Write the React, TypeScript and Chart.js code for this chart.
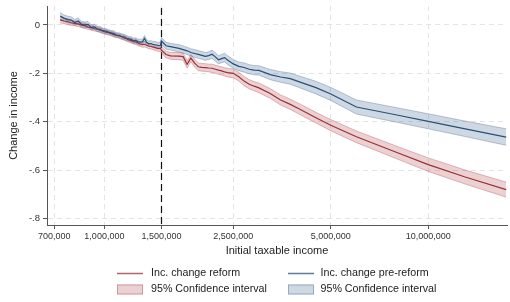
import React, { useEffect, useRef } from "react";
import { Chart, registerables } from "chart.js";

Chart.register(...registerables);

const incomes = [
  730000, 750000, 770000, 790000, 810000, 830000, 850000, 870000, 890000, 910000,
  930000, 950000, 970000, 990000, 1010000, 1030000, 1050000, 1070000, 1090000, 1110000,
  1130000, 1150000, 1170000, 1190000, 1210000, 1230000, 1250000, 1270000, 1290000, 1310000,
  1330000, 1350000, 1370000, 1390000, 1410000, 1430000, 1450000, 1470000, 1490000, 1500000,
  1550000, 1600000, 1700000, 1750000, 1800000, 1850000, 1900000, 1950000, 2000000, 2050000,
  2100000, 2150000, 2200000, 2250000, 2300000, 2350000, 2400000, 2500000, 2600000, 2700000,
  2800000, 2900000, 3000000, 3250000, 3500000, 3750000, 4000000, 4500000, 5000000, 6000000,
  8000000, 10000000, 13000000, 17400000,
];

const reformChange = [
  0.021, 0.016, 0.014, 0.009, 0.006, 0.004, -0.001, -0.003, -0.009, -0.011,
  -0.015, -0.018, -0.022, -0.026, -0.030, -0.032, -0.036, -0.040, -0.043, -0.046,
  -0.049, -0.054, -0.057, -0.062, -0.065, -0.069, -0.070, -0.075, -0.079, -0.081,
  -0.080, -0.084, -0.087, -0.088, -0.091, -0.093, -0.096, -0.098, -0.096, -0.104,
  -0.122, -0.128, -0.129, -0.131, -0.163, -0.137, -0.158, -0.173, -0.175, -0.176,
  -0.178, -0.179, -0.183, -0.187, -0.190, -0.194, -0.197, -0.200, -0.214, -0.232,
  -0.245, -0.253, -0.260, -0.283, -0.310, -0.328, -0.347, -0.383, -0.414, -0.462,
  -0.527, -0.577, -0.628, -0.680,
];

const reformCI = [
  0.012, 0.011, 0.012, 0.011, 0.010, 0.011, 0.010, 0.011, 0.010, 0.010,
  0.010, 0.009, 0.010, 0.009, 0.010, 0.009, 0.009, 0.010, 0.009, 0.009,
  0.010, 0.009, 0.010, 0.009, 0.010, 0.010, 0.011, 0.010, 0.010, 0.011,
  0.011, 0.010, 0.011, 0.011, 0.011, 0.012, 0.011, 0.012, 0.012, 0.013,
  0.014, 0.014, 0.015, 0.015, 0.015, 0.015, 0.016, 0.016, 0.016, 0.016,
  0.016, 0.017, 0.017, 0.017, 0.017, 0.017, 0.018, 0.018, 0.018, 0.019,
  0.019, 0.019, 0.020, 0.020, 0.021, 0.021, 0.022, 0.022, 0.023, 0.024,
  0.026, 0.028, 0.029, 0.031,
];

const preReformChange = [
  0.037, 0.028, 0.022, 0.020, 0.010, 0.016, 0.002, 0.000, 0.002, -0.010,
  -0.008, -0.016, -0.018, -0.024, -0.026, -0.030, -0.033, -0.036, -0.042, -0.043,
  -0.048, -0.049, -0.055, -0.058, -0.060, -0.066, -0.064, -0.070, -0.071, -0.070,
  -0.056, -0.072, -0.078, -0.077, -0.080, -0.082, -0.083, -0.085, -0.084, -0.066,
  -0.086, -0.090, -0.097, -0.102, -0.107, -0.114, -0.118, -0.122, -0.126, -0.130,
  -0.127, -0.121, -0.132, -0.144, -0.139, -0.135, -0.145, -0.161, -0.171, -0.176,
  -0.183, -0.187, -0.188, -0.205, -0.215, -0.222, -0.235, -0.259, -0.285, -0.339,
  -0.372, -0.398, -0.429, -0.463,
];

const preReformCI = [
  0.014, 0.013, 0.014, 0.013, 0.012, 0.013, 0.012, 0.012, 0.012, 0.011,
  0.011, 0.011, 0.011, 0.010, 0.011, 0.010, 0.010, 0.011, 0.010, 0.010,
  0.011, 0.010, 0.011, 0.010, 0.011, 0.011, 0.011, 0.011, 0.012, 0.011,
  0.012, 0.012, 0.012, 0.012, 0.012, 0.013, 0.012, 0.013, 0.013, 0.014,
  0.014, 0.014, 0.015, 0.015, 0.015, 0.015, 0.016, 0.016, 0.016, 0.016,
  0.016, 0.017, 0.017, 0.017, 0.017, 0.018, 0.018, 0.018, 0.018, 0.019,
  0.019, 0.019, 0.019, 0.021, 0.022, 0.023, 0.024, 0.026, 0.027, 0.029,
  0.030, 0.031, 0.032, 0.034,
];

const xTickValues = [700000, 1000000, 1500000, 2500000, 5000000, 10000000];
const yTickValues = [-0.8, -0.6, -0.4, -0.2, 0];
const thresholdIncome = 1500000;
const xTitle = "Initial taxable income";
const yTitle = "Change in income";
const legendLabels = [
  "Inc. change reform",
  "Inc. change pre-reform",
  "95% Confidence interval",
  "95% Confidence interval",
];

const FONT = '"Liberation Sans", Arial, Helvetica, sans-serif';
const RED = "#9a2f38";
const BLUE = "#26507a";
const RED_FILL = "rgba(180,70,80,0.25)";
const BLUE_FILL = "rgba(60,100,145,0.25)";
const RED_EDGE = "rgba(190,100,108,0.55)";
const BLUE_EDGE = "rgba(110,140,172,0.6)";

function fmtThousands(v: number): string {
  return String(Math.round(v)).replace(/\B(?=(\d{3})+(?!\d))/g, ",");
}

function fmtY(v: number): string {
  if (Math.abs(v) < 1e-9) return "0";
  return v.toFixed(1).replace("0.", ".");
}

const thresholdPlugin = {
  id: "thresholdLine",
  beforeDatasetsDraw(chart: any) {
    const { ctx, chartArea, scales } = chart;
    const x = Math.round(scales.x.getPixelForValue(thresholdIncome)) + 0.5;
    ctx.save();
    ctx.strokeStyle = "#111";
    ctx.lineWidth = 1.2;
    ctx.setLineDash([7, 4]);
    ctx.beginPath();
    ctx.moveTo(x, chartArea.top + 2);
    ctx.lineTo(x, chartArea.bottom);
    ctx.stroke();
    ctx.restore();
  },
};

const legendPlugin = {
  id: "customLegend",
  afterDraw(chart: any) {
    const ctx = chart.ctx;
    ctx.save();
    ctx.font = `10.7px ${FONT}`;
    ctx.fillStyle = "#222";
    ctx.textBaseline = "middle";
    ctx.textAlign = "left";
    const row1 = 273.5;
    const row2 = 289.5;
    const cols = [117, 288];
    const textCols = [151, 320.5];
    const lineColors = [RED, BLUE];
    const fills = [RED_FILL, BLUE_FILL];
    const edges = [RED_EDGE, BLUE_EDGE];
    for (let c = 0; c < 2; c++) {
      ctx.strokeStyle = lineColors[c];
      ctx.globalAlpha = 0.75;
      ctx.lineWidth = 1.5;
      ctx.beginPath();
      ctx.moveTo(cols[c], row1);
      ctx.lineTo(cols[c] + 26, row1);
      ctx.stroke();
      ctx.globalAlpha = 1;
      ctx.fillStyle = fills[c];
      ctx.fillRect(cols[c], row2 - 5, 26, 10);
      ctx.strokeStyle = edges[c];
      ctx.lineWidth = 1;
      ctx.strokeRect(cols[c] + 0.5, row2 - 4.5, 25, 9);
      ctx.fillStyle = "#222";
      ctx.fillText(legendLabels[c], textCols[c], row1);
      ctx.fillText(legendLabels[c + 2], textCols[c], row2);
    }
    ctx.restore();
  },
};

export default function App() {
  const canvasRef = useRef<HTMLCanvasElement | null>(null);

  useEffect(() => {
    if (!canvasRef.current) return;
    const pts = (vals: number[]) => incomes.map((x, i) => ({ x, y: vals[i] }));
    const band = (vals: number[], ci: number[], sign: number) =>
      incomes.map((x, i) => ({ x, y: vals[i] + sign * ci[i] }));

    const lineBase = { pointRadius: 0, pointHoverRadius: 0, tension: 0 };

    const chart = new Chart(canvasRef.current, {
      type: "line",
      data: {
        datasets: [
          { ...lineBase, label: legendLabels[1], data: pts(preReformChange), borderColor: BLUE, borderWidth: 1.2, fill: false },
          { ...lineBase, label: legendLabels[0], data: pts(reformChange), borderColor: RED, borderWidth: 1.2, fill: false },
          { ...lineBase, label: "pre hi", data: band(preReformChange, preReformCI, 1), borderColor: BLUE_EDGE, borderWidth: 0.8, backgroundColor: BLUE_FILL, fill: 3 },
          { ...lineBase, label: "pre lo", data: band(preReformChange, preReformCI, -1), borderColor: BLUE_EDGE, borderWidth: 0.8, fill: false },
          { ...lineBase, label: "ref hi", data: band(reformChange, reformCI, 1), borderColor: RED_EDGE, borderWidth: 0.8, backgroundColor: RED_FILL, fill: 5 },
          { ...lineBase, label: "ref lo", data: band(reformChange, reformCI, -1), borderColor: RED_EDGE, borderWidth: 0.8, fill: false },
        ] as any,
      },
      options: {
        responsive: false,
        animation: false,
        devicePixelRatio: 1,
        events: [],
        layout: { padding: { top: 6, right: 3, bottom: 40, left: 0 } },
        plugins: {
          legend: { display: false },
          tooltip: { enabled: false },
        },
        scales: {
          x: {
            type: "logarithmic",
            min: 665000,
            max: 17500000,
            afterBuildTicks: (s: any) => {
              s.ticks = xTickValues.map((v) => ({ value: v }));
            },
            afterFit: (s: any) => {
              s.height = 37;
              s.paddingLeft = 0;
              s.paddingRight = 0;
            },
            ticks: {
              autoSkip: false,
              maxRotation: 0,
              minRotation: 0,
              padding: 2,
              color: "#333",
              font: { family: FONT, size: 9 },
              callback: (v: any) => fmtThousands(Number(v)),
            },
            grid: {
              color: "#e4e4e4",
              lineWidth: 1,
              tickLength: 4,
              tickColor: "#555",
              tickWidth: 1,
              tickBorderDash: [],
            },
            border: { display: true, color: "#555", width: 1, dash: [5, 4] },
            title: {
              display: true,
              text: xTitle,
              color: "#222",
              font: { family: FONT, size: 11 },
              padding: { top: 0, bottom: 4 },
            },
          },
          y: {
            type: "linear",
            min: -0.826,
            max: 0.078,
            afterBuildTicks: (s: any) => {
              s.ticks = yTickValues.map((v) => ({ value: v }));
            },
            afterFit: (s: any) => {
              s.width = 47;
              s.paddingTop = 0;
              s.paddingBottom = 0;
            },
            ticks: {
              padding: 3,
              color: "#333",
              font: { family: FONT, size: 9.5 },
              callback: (v: any) => fmtY(Number(v)),
            },
            grid: {
              color: "#e4e4e4",
              lineWidth: 1,
              tickLength: 4,
              tickColor: "#555",
              tickWidth: 1,
              tickBorderDash: [],
            },
            border: { display: true, color: "#555", width: 1, dash: [5, 4] },
            title: {
              display: true,
              text: yTitle,
              color: "#222",
              font: { family: FONT, size: 11 },
              padding: { top: 7, bottom: 0 },
            },
          },
        },
      } as any,
      plugins: [thresholdPlugin, legendPlugin],
    });
    return () => chart.destroy();
  }, []);

  return (
    <div style={{ position: "absolute", left: 0, top: 0, width: 510, height: 302, background: "#fff" }}>
      <canvas ref={canvasRef} width={510} height={302} style={{ display: "block", width: 510, height: 302 }} />
    </div>
  );
}
